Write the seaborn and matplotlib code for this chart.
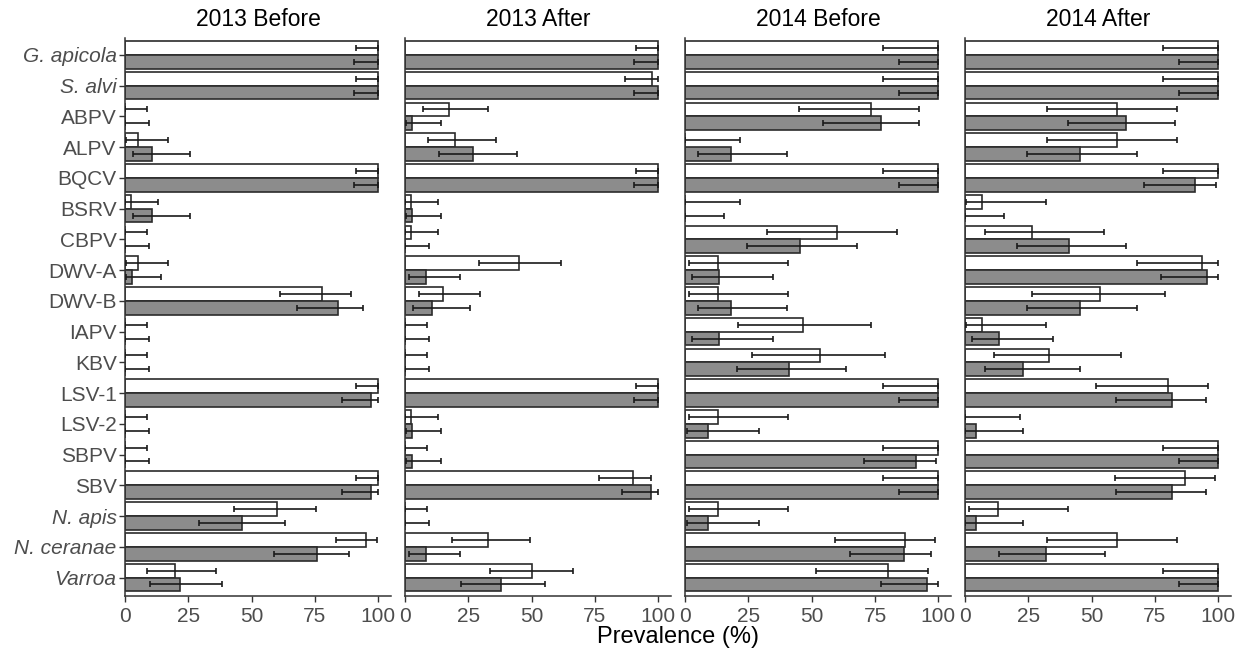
import numpy as np
import pandas as pd
import matplotlib
matplotlib.use("Agg")
import matplotlib.pyplot as plt
import seaborn as sns

categories = ["G. apicola", "S. alvi", "ABPV", "ALPV", "BQCV", "BSRV", "CBPV",
              "DWV-A", "DWV-B", "IAPV", "KBV", "LSV-1", "LSV-2", "SBPV", "SBV",
              "N. apis", "N. ceranae", "Varroa"]
italic_cats = {"G. apicola", "S. alvi", "N. apis", "N. ceranae", "Varroa"}
panels = ["2013 Before", "2013 After", "2014 Before", "2014 After"]
groups = ["white", "grey"]

# ---- 2013 Before ----
b13_w = [100, 100, 0, 5.0, 100, 2.4, 0, 5.0, 77.6, 0, 0, 100, 0, 0, 100, 60.0, 95.3, 19.9]
b13_w_lo = [91.0, 91.0, 0, 0.4, 91.0, 0, 0, 0.4, 61.3, 0, 0, 91.0, 0, 0, 91.0, 43.1, 83.1, 8.8]
b13_w_hi = [100, 100, 8.8, 16.9, 100, 13.2, 8.8, 16.9, 89.4, 8.8, 8.8, 100, 8.8, 8.8, 100, 75.2, 99.3, 35.8]
b13_g = [100, 100, 0, 10.8, 100, 10.8, 0, 2.6, 83.9, 0, 0, 97.2, 0, 0, 97.2, 46.0, 75.9, 21.6]
b13_g_lo = [90.4, 90.4, 0, 3.0, 90.4, 3.0, 0, 0.2, 67.9, 0, 0, 85.8, 0, 0, 85.8, 29.4, 58.7, 9.9]
b13_g_hi = [100, 100, 9.6, 25.5, 100, 25.5, 9.6, 14.1, 93.9, 9.6, 9.6, 100, 9.6, 9.6, 100, 63.1, 88.5, 38.3]

# ---- 2013 After ----
a13_w = [100, 97.4, 17.4, 19.8, 100, 2.4, 2.4, 45.0, 14.9, 0, 0, 100, 2.4, 0, 90.1, 0, 32.6, 50.1]
a13_w_lo = [91.3, 86.7, 7.0, 9.0, 91.3, 0, 0, 29.3, 5.7, 0, 0, 91.3, 0, 0, 76.5, 0, 18.5, 33.6]
a13_w_hi = [100, 100, 32.7, 35.9, 100, 12.9, 12.9, 61.7, 29.8, 8.8, 8.8, 100, 12.9, 8.8, 97.2, 8.8, 49.2, 66.2]
a13_g = [100, 100, 2.6, 27.0, 100, 2.6, 0, 8.2, 10.8, 0, 0, 100, 2.6, 2.6, 97.2, 0, 8.2, 37.9]
a13_g_lo = [90.4, 90.4, 0.2, 13.6, 90.4, 0.2, 0, 1.6, 3.0, 0, 0, 90.4, 0.2, 0.2, 85.8, 0, 1.6, 22.3]
a13_g_hi = [100, 100, 14.1, 44.2, 100, 14.1, 9.6, 21.9, 25.5, 9.6, 9.6, 100, 14.1, 14.1, 100, 9.6, 21.9, 55.3]

# ---- 2014 Before ----
b14_w = [100, 100, 73.4, 0, 100, 0, 60.0, 13.2, 13.2, 46.7, 53.4, 100, 13.2, 100, 100, 13.2, 86.7, 80.1]
b14_w_lo = [78.2, 78.2, 44.9, 0, 78.2, 0, 32.3, 1.6, 1.6, 21.1, 26.4, 78.2, 1.6, 78.2, 78.2, 1.6, 59.4, 51.8]
b14_w_hi = [100, 100, 92.2, 21.8, 100, 21.8, 83.8, 40.5, 40.5, 73.5, 78.8, 100, 40.5, 100, 100, 40.5, 98.5, 95.8]
b14_g = [100, 100, 77.4, 18.2, 100, 0, 45.5, 13.6, 18.2, 13.6, 40.9, 100, 9.1, 91.0, 100, 9.1, 86.3, 95.5]
b14_g_lo = [84.6, 84.6, 54.5, 5.3, 84.6, 0, 24.4, 2.6, 5.3, 2.6, 20.7, 84.6, 0.9, 70.8, 84.6, 0.9, 65.0, 77.2]
b14_g_hi = [100, 100, 92.2, 40.2, 100, 15.3, 67.7, 34.7, 40.2, 34.7, 63.7, 100, 29.2, 98.9, 100, 29.2, 97.2, 100]

# ---- 2014 After ----
a14_w = [100, 100, 60.0, 60.0, 100, 6.6, 26.6, 93.4, 53.2, 6.6, 33.2, 80.1, 0, 100, 86.8, 13.2, 60.0, 100]
a14_w_lo = [78.2, 78.2, 32.3, 32.3, 78.2, 0.2, 7.7, 67.9, 26.4, 0.2, 11.6, 51.8, 0, 78.2, 59.4, 1.6, 32.3, 78.2]
a14_w_hi = [100, 100, 83.8, 83.8, 100, 31.9, 55.0, 99.7, 78.8, 31.9, 61.7, 95.8, 21.8, 100, 98.5, 40.5, 83.8, 100]
a14_g = [100, 100, 63.6, 45.5, 90.9, 0, 40.9, 95.5, 45.5, 13.6, 22.7, 81.9, 4.4, 100, 81.9, 4.4, 31.9, 100]
a14_g_lo = [84.6, 84.6, 40.6, 24.4, 70.8, 0, 20.7, 77.2, 24.4, 2.6, 7.7, 59.6, 0.1, 84.6, 59.6, 0.1, 13.6, 84.6]
a14_g_hi = [100, 100, 82.8, 67.7, 98.9, 15.3, 63.7, 99.7, 67.7, 34.7, 45.4, 95.0, 22.7, 100, 95.0, 22.7, 55.1, 100]

panel_data = {
    "2013 Before": (b13_w, b13_w_lo, b13_w_hi, b13_g, b13_g_lo, b13_g_hi),
    "2013 After": (a13_w, a13_w_lo, a13_w_hi, a13_g, a13_g_lo, a13_g_hi),
    "2014 Before": (b14_w, b14_w_lo, b14_w_hi, b14_g, b14_g_lo, b14_g_hi),
    "2014 After": (a14_w, a14_w_lo, a14_w_hi, a14_g, a14_g_lo, a14_g_hi),
}

sns.set_theme(style="ticks")
plt.rcParams['font.family'] = ['Liberation Sans', 'DejaVu Sans']

W, H = 1248, 656
fig = plt.figure(figsize=(W / 100, H / 100), dpi=100)

lefts = [125, 405, 685, 965]
pw = 266
top_px, bot_px = 38, 596
edge = "#2b2b2b"
tick_col = "#4d4d4d"
bar_w = 0.9

for k, pname in enumerate(panels):
    ax = fig.add_axes([lefts[k] / W, 1 - bot_px / H, pw / W, (bot_px - top_px) / H])
    w, wlo, whi, g, glo, ghi = panel_data[pname]
    df = pd.DataFrame({
        "cat": categories * 2,
        "grp": ["white"] * len(categories) + ["grey"] * len(categories),
        "val": list(w) + list(g),
    })
    sns.barplot(data=df, y="cat", x="val", hue="grp", hue_order=groups,
                order=categories, orient="h", palette={"white": "white", "grey": "#8c8c8c"},
                edgecolor=edge, linewidth=1.2, width=bar_w, errorbar=None,
                legend=False, ax=ax, gap=0)
    ypos = np.arange(len(categories))
    off = bar_w / 4
    for vals, lo, hi, dy in [(w, wlo, whi, -off), (g, glo, ghi, off)]:
        vals = np.array(vals); lo = np.array(lo); hi = np.array(hi)
        ax.errorbar(vals, ypos + dy, xerr=[vals - lo, hi - vals], fmt="none",
                    ecolor="#1a1a1a", elinewidth=1.2, capsize=2.2, capthick=1.2, zorder=5)
    ax.set_xlim(0, 105)
    ax.set_ylim(len(categories) - 0.4, -0.55)
    ax.set_xticks([0, 25, 50, 75, 100])
    ax.set_xlabel("")
    ax.set_ylabel("")
    sns.despine(ax=ax)
    for sp in ["left", "bottom"]:
        ax.spines[sp].set_color("#333333")
        ax.spines[sp].set_linewidth(1.1)
    ax.tick_params(axis="both", colors="#333333", length=4, width=1.0,
                   labelsize=15, labelcolor=tick_col, pad=2)
    ax.tick_params(axis="x", pad=4)
    if k == 0:
        ax.set_yticks(ypos)
        ax.set_yticklabels(categories)
        for lab in ax.get_yticklabels():
            if lab.get_text() in italic_cats:
                lab.set_style("italic")
    else:
        ax.set_yticks(ypos)
        ax.set_yticklabels([])
        ax.tick_params(axis="y", length=0)
    ax.set_title(pname, fontsize=16.5, color="black", pad=9)

fig.text((lefts[0] + lefts[3] + pw) / 2 / W, 1 - 637 / H, "Prevalence (%)",
         ha="center", va="center", fontsize=17, color="black")

fig.savefig("out.png", dpi=100)
